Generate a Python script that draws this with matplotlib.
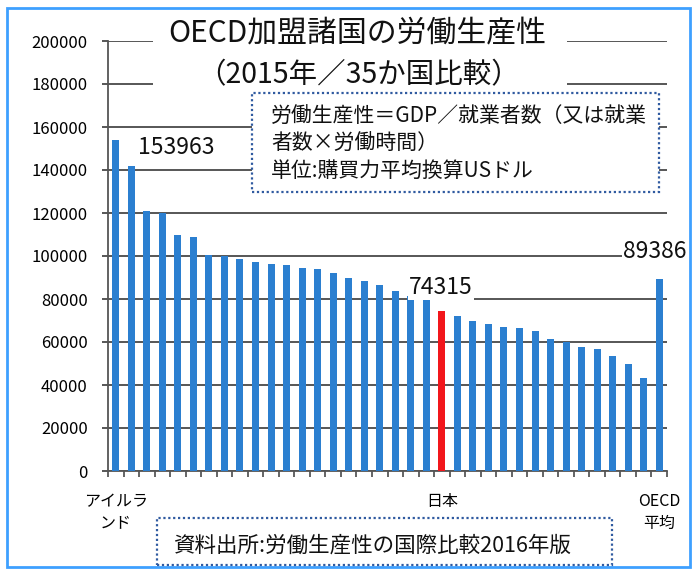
import matplotlib
matplotlib.use("Agg")
import matplotlib.pyplot as plt
from matplotlib.patches import Rectangle
from matplotlib.ticker import FixedLocator, NullFormatter

plt.rcParams['font.family'] = ['Noto Sans CJK JP', 'DejaVu Sans']

# ---- data ----
values = [153963, 142000, 121000, 120000, 110000, 109000, 100300, 100000,
          98400, 97300, 96100, 95800, 94500, 93800, 92200, 89600, 88400,
          86500, 83800, 81400, 79800, 74315, 72100, 69900, 68400, 67200,
          66300, 65000, 61500, 60000, 57800, 56900, 53500, 49900, 43200,
          89386]
tick_labels = ["アイルラ\nンド"] + [""] * 20 + ["日本"] + [""] * 13 + ["OECD\n平均"]
highlight_index = 21          # 日本
labelled_indices = [0, 21, 35]
yticks = [0, 20000, 40000, 60000, 80000, 100000, 120000, 140000, 160000, 180000, 200000]
title_lines = ["OECD加盟諸国の労働生産性", "（2015年／35か国比較）"]
note_lines = ["労働生産性＝GDP／就業者数（又は就業", "者数×労働時間）", "単位:購買力平均換算USドル"]
source_text = "資料出所:労働生産性の国際比較2016年版"

W, H = 694, 570
fig = plt.figure(figsize=(W / 100, H / 100), dpi=100)
fig.patch.set_facecolor("white")

def fx(px):
    return px / W

def fy(py):
    return 1 - py / H

ax = fig.add_axes([fx(108), fy(471), fx(667) - fx(108), fy(41) - fy(471)])
blue = "#2b7fd0"
red = "#f2161b"
colors = [red if i == highlight_index else blue for i in range(len(values))]
x = list(range(len(values)))
ax.bar(x, values, width=0.45, color=colors, zorder=3)

ax.set_xlim(-0.5, len(values) - 0.5)
ax.set_ylim(0, 200000)
ax.set_yticks(yticks)
ax.set_yticklabels([str(v) for v in yticks])
ax.yaxis.grid(True, color="#3a3a3a", linewidth=1.2, zorder=1)
ax.set_axisbelow(True)
for s in ["top", "right"]:
    ax.spines[s].set_visible(False)
for s in ["left", "bottom"]:
    ax.spines[s].set_color("#555555")
    ax.spines[s].set_linewidth(1.3)

ax.tick_params(axis="y", length=4.5, width=1.2, color="#3a3a3a", pad=10, labelsize=12)
ax.set_xticks(x)
ax.set_xticklabels(tick_labels, fontsize=11.5, linespacing=1.35)
ax.tick_params(axis="x", which="major", length=0, pad=16)
ax.xaxis.set_minor_locator(FixedLocator([i - 0.5 for i in range(len(values) + 1)]))
ax.xaxis.set_minor_formatter(NullFormatter())
ax.tick_params(axis="x", which="minor", length=4, width=1.1, color="#3a3a3a", direction="out")

# value labels
offsets = {0: (22, -8, "left"), 21: (-1, 24, "center"), 35: (-4, 27, "center")}
for i in labelled_indices:
    dx, dy, ha = offsets[i]
    ax.annotate(str(values[i]), xy=(i, values[i]), xytext=(dx, dy),
                textcoords="offset pixels", ha=ha, va="center", fontsize=16.5,
                color="#111111", annotation_clip=False, zorder=6,
                bbox=dict(boxstyle="square,pad=0.05", fc="white", ec="none"))

# title block (white background over gridlines)
fig.patches.append(Rectangle((fx(153), fy(95)), fx(567) - fx(153), fy(18) - fy(95),
                             transform=fig.transFigure, fc="white", ec="none", zorder=5))
fig.text(fx(357), fy(34), title_lines[0], ha="center", va="center", fontsize=21.5, zorder=6, color="#111111")
fig.text(fx(359), fy(75), title_lines[1], ha="center", va="center", fontsize=20.5, zorder=6, color="#111111")

# note box
fig.patches.append(Rectangle((fx(252), fy(192)), fx(659) - fx(252), fy(93) - fy(192),
                             transform=fig.transFigure, fc="white", ec="#2f5aa0",
                             ls=(0, (1, 1.2)), lw=1.6, zorder=5))
for line, py in zip(note_lines, [117, 144, 171]):
    fig.text(fx(271), fy(py), line, ha="left", va="center", fontsize=15, zorder=6, color="#111111")

# source box
fig.patches.append(Rectangle((fx(157), fy(565)), fx(612) - fx(157), fy(518) - fy(565),
                             transform=fig.transFigure, fc="white", ec="#2f5aa0",
                             ls=(0, (1, 1.2)), lw=1.6, zorder=5))
fig.text(fx(372), fy(546), source_text, ha="center", va="center", fontsize=15.5, zorder=6, color="#111111")

# outer frame
fig.patches.append(Rectangle((fx(7), fy(567)), fx(690) - fx(7), fy(8) - fy(567),
                             transform=fig.transFigure, fc="none", ec="#3ea0ff", lw=2, zorder=0))

fig.savefig("out.png", dpi=100)
